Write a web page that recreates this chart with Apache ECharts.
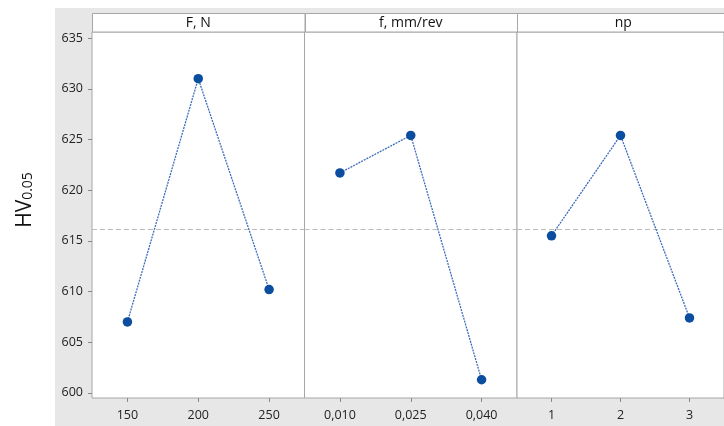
<!DOCTYPE html>
<html><head><meta charset="utf-8">
<script src="https://cdn.jsdelivr.net/npm/echarts@6/dist/echarts.min.js"></script>
<style>html,body{margin:0;padding:0;background:#fff}#c{width:724px;height:426px}</style>
</head><body><div id="c"></div>
<script>
const panelTitles = ['F, N', 'f, mm/rev', 'np'];
const catF = ['150', '200', '250'];
const catFeed = ['0,010', '0,025', '0,040'];
const catNp = ['1', '2', '3'];
const valF = [607.0, 631.0, 610.2];
const valFeed = [621.7, 625.4, 601.3];
const valNp = [615.5, 625.4, 607.4];
const yTicks = [600, 605, 610, 615, 620, 625, 630, 635];
const grandMean = 616.1;
const yLabelMain = 'HV';
const yLabelSub = '0.05';

const cats = [catF, catFeed, catNp];
const vals = [valF, valFeed, valNp];
const lefts = [92, 304.5, 517];
const W = 212.5;
const TOP = 32, HEIGHT = 366;
const FONT = '"Open Sans", "Noto Sans", sans-serif';

const grids = [], xAxes = [], yAxes = [], series = [], graphics = [];

graphics.push({type: 'rect', z: -100, shape: {x: 55, y: 8, width: 680, height: 430}, style: {fill: '#e7e7e7'}, silent: true});

for (let i = 0; i < 3; i++) {
  grids.push({left: lefts[i], top: TOP, width: W, height: HEIGHT, show: true, backgroundColor: '#fff', borderColor: '#a6a6a6', borderWidth: 1});
  xAxes.push({
    type: 'category', gridIndex: i, data: cats[i], boundaryGap: true,
    axisLine: {show: false},
    axisTick: {show: true, alignWithLabel: true, length: 4, lineStyle: {color: '#8a8a8a'}},
    axisLabel: {fontFamily: FONT, fontSize: 12.5, color: '#222', margin: 11}
  });
  yAxes.push({
    type: 'value', gridIndex: i, min: 599.5, max: 635.6,
    splitLine: {show: false},
    axisLine: {show: false},
    axisTick: {show: i === 0, length: 4, customValues: yTicks, lineStyle: {color: '#8a8a8a'}},
    axisLabel: {show: i === 0, customValues: yTicks, fontFamily: FONT, fontSize: 12.5, color: '#222', margin: 9}
  });
  series.push({
    type: 'line', xAxisIndex: i, yAxisIndex: i, data: vals[i],
    symbol: 'circle', symbolSize: 9.5,
    itemStyle: {color: '#0b4d9f'},
    lineStyle: {color: '#3d6dbd', width: 1.3, type: [2, 1]},
    z: 5,
    markLine: {
      silent: true, symbol: 'none', label: {show: false},
      lineStyle: {color: '#bdbdbd', type: [5, 3], width: 1.2},
      data: [{yAxis: grandMean}]
    }
  });
  graphics.push({type: 'rect', z: 10, shape: {x: Math.round(lefts[i]) + 0.5, y: 13.5, width: W, height: 18.5}, style: {fill: '#fff', stroke: '#a6a6a6', lineWidth: 1}, silent: true});
  graphics.push({type: 'text', z: 11, x: lefts[i] + W / 2, y: 23, style: {text: panelTitles[i], fontFamily: FONT, fontSize: 14, fill: '#111', align: 'center', verticalAlign: 'middle'}, silent: true});
}

graphics.push({
  type: 'text', z: 11, x: 25, y: 200, rotation: Math.PI / 2,
  style: {
    text: '{a|' + yLabelMain + '}{b|' + yLabelSub + '}',
    align: 'center', verticalAlign: 'middle',
    rich: {
      a: {fontFamily: FONT, fontSize: 21, fill: '#111', verticalAlign: 'bottom'},
      b: {fontFamily: FONT, fontSize: 14, fill: '#111', verticalAlign: 'bottom'}
    }
  },
  silent: true
});

const chart = echarts.init(document.getElementById('c'), null, {renderer: 'canvas'});
chart.setOption({
  animation: false,
  backgroundColor: '#fff',
  grid: grids, xAxis: xAxes, yAxis: yAxes, series: series,
  graphic: graphics
});
</script></body></html>
